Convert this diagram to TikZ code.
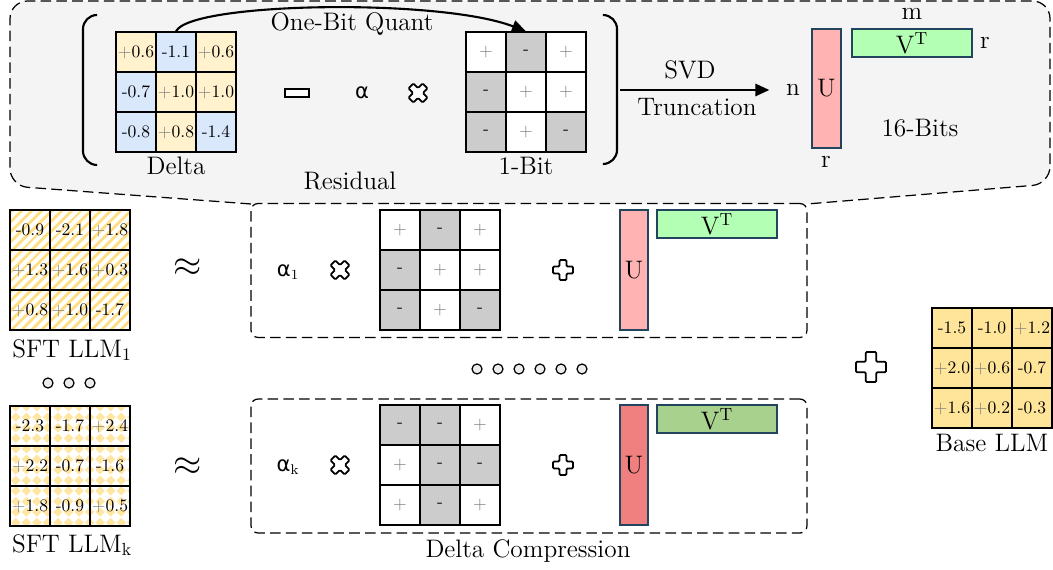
\documentclass[tikz,border=0pt]{standalone}
\usepackage{fontspec}
\usepackage{xcolor}
\usetikzlibrary{arrows.meta,patterns,patterns.meta}
\newfontfamily\grk{DejaVu Sans}

\definecolor{posyellow}{HTML}{FFF2CC}
\definecolor{negblue}{HTML}{DAE8FC}
\definecolor{bitgray}{HTML}{CCCCCC}
\definecolor{upink}{HTML}{FFB3B3}
\definecolor{vgreen}{HTML}{B3FFB3}
\definecolor{ured}{HTML}{F08080}
\definecolor{vsage}{HTML}{A9D18E}
\definecolor{baseyellow}{HTML}{FFE599}
\definecolor{patyellow}{HTML}{FFDF85}
\definecolor{diayellow}{HTML}{FFE6A3}
\definecolor{panelgray}{HTML}{F4F4F4}
\definecolor{edgenavy}{HTML}{23445D}

% rotated checkerboard for the second fine-tuned model
\pgfdeclarepatternformonly{checkdiamonds}{\pgfpoint{-0.1pt}{-0.1pt}}{\pgfpoint{6.1pt}{6.1pt}}{\pgfpoint{6pt}{6pt}}{
  \pgfpathmoveto{\pgfpoint{3pt}{0.3pt}}
  \pgfpathlineto{\pgfpoint{5.7pt}{3pt}}
  \pgfpathlineto{\pgfpoint{3pt}{5.7pt}}
  \pgfpathlineto{\pgfpoint{0.3pt}{3pt}}
  \pgfpathclose
  \pgfusepath{fill}
}

\newcommand{\pl}{\textcolor{gray}{+}}
% 3x3 block of cells: name, left, top, {style/value,...}
\newcommand{\cellgrid}[4]{%
  \foreach \s/\v [count=\i from 0] in {#4} {
    \pgfmathtruncatemacro\col{mod(\i,3)}
    \pgfmathtruncatemacro\row{div(\i,3)}
    \node[cell,\s] (#1-\row-\col) at ({#2+20+40*\col},{#3+20+40*\row}) {\v};
  }}

\begin{document}
\begin{tikzpicture}[x=0.02cm,y=-0.02cm,
  cell/.style={draw,line width=0.7pt,minimum size=0.8cm,inner sep=0pt},
  yel/.style={fill=posyellow},
  blu/.style={fill=negblue},
  gry/.style={fill=bitgray},
  wht/.style={fill=white},
  basec/.style={fill=baseyellow},
  stripe/.style={pattern={Lines[angle=45,distance=4pt,line width=1.7pt]},pattern color=patyellow},
  checks/.style={pattern=checkdiamonds,pattern color=diayellow},
  lbl/.style={font=\Large},
  dashline/.style={dash pattern=on 6pt off 3pt,line width=0.7pt},
  dashbox/.style={draw,dashline,rounded corners=4pt,fill=white,minimum width=11.12cm,minimum height=2.68cm},
  factor/.style={draw=edgenavy,line width=0.7pt,inner sep=0pt,font=\Large},
  ring/.style={circle,draw,fill=gray!15,minimum size=0.2cm,inner sep=0pt,line width=0.7pt},
  arrow/.style={-{Triangle[length=8pt,width=7pt]},line width=1.2pt},
  crossmark/.pic={\draw[fill=white,line width=1pt,rounded corners=0.6pt]
    (-3.5,-10) -- (3.5,-10) -- (3.5,-3.5) -- (10,-3.5) -- (10,3.5) -- (3.5,3.5)
    -- (3.5,10) -- (-3.5,10) -- (-3.5,3.5) -- (-10,3.5) -- (-10,-3.5) -- (-3.5,-3.5) -- cycle;}]
\useasboundingbox (0,0) rectangle (1053,570);

% top panel, narrowing down onto the first row
\coordinate (calloutL) at (251,204);
\coordinate (calloutR) at (807,204);
\path[fill=panelgray,draw,dashline] (calloutL) [rounded corners=10pt] -- (10,186) -- (10,1)
  -- (1050,1) -- (1050,184) [sharp corners] -- (calloutR);

% brackets
\draw[line width=1.2pt,rounded corners=8pt] (97,15) -- (83,15) -- (83,165) -- (97,165);
\draw[line width=1.2pt,rounded corners=8pt] (603,15) -- (617,15) -- (617,164) -- (603,164);

\cellgrid{delta}{116}{32}{yel/\pl0.6, blu/-1.1, yel/\pl0.6,
  blu/-0.7, yel/\pl1.0, yel/\pl1.0,
  blu/-0.8, yel/\pl0.8, blu/-1.4}
\node[lbl] (deltalab) at (176,166) {Delta};

\node[draw,fill=white,line width=1pt,minimum width=0.48cm,minimum height=0.15cm,inner sep=0pt] (minus) at (297,93) {};
\node[font=\large\grk] (alpha) at (362,93) {α};
\pic[rotate=45] at (418,93) {crossmark};

\cellgrid{bitq}{466}{32}{wht/\pl, gry/-, wht/\pl,
  gry/-, wht/\pl, wht/\pl,
  gry/-, wht/\pl, gry/-}
\node[lbl] (bitlab) at (526,166) {1-Bit};

\draw[arrow] (delta-0-1.north) .. controls (190,2) and (440,-2) .. (bitq-0-1.north);
\node[lbl] (quantlab) at (352,24) {One-Bit Quant};
\node[lbl] (residlab) at (350,181) {Residual};

% SVD step
\node[lbl] (nlab) at (793,90) {n};
\coordinate (svdfrom) at (620,90);
\draw[arrow,shorten >=6pt] (svdfrom) -- (nlab.west);
\node[lbl] (svdlab) at (690,70) {SVD};
\node[lbl] (trunclab) at (697,107) {Truncation};

\node[factor,fill=upink,minimum width=0.58cm,minimum height=2.38cm] (utop) at (826.5,88.5) {U};
\node[factor,fill=vgreen,minimum width=2.4cm,minimum height=0.56cm] (vtop) at (912,43) {V$^\mathrm{T}$};
\node[lbl] (rbot) at (826,162) {r};
\node[lbl] (mlab) at (912,14) {m};
\node[lbl] (rside) at (985,43) {r};
\node[lbl] (bitslab) at (920,128) {16-Bits};

% compressed deltas
\node[dashbox] (box1) at (529,270.5) {};
\node[dashbox] (box2) at (529,466) {};

\node[font=\large] (alpha1) at (288,272) {{\grk α}$_1$};
\pic[rotate=45] at (340,270) {crossmark};
\cellgrid{bitA}{380}{210}{wht/\pl, gry/-, wht/\pl,
  gry/-, wht/\pl, wht/\pl,
  gry/-, wht/\pl, gry/-}
\pic at (563,270) {crossmark};
\node[factor,fill=upink,minimum width=0.56cm,minimum height=2.4cm] (uA) at (634,270) {U};
\node[factor,fill=vgreen,minimum width=2.4cm,minimum height=0.56cm] (vA) at (717,224) {V$^\mathrm{T}$};

\foreach \k in {0,...,5}
  \node[ring] (midring\k) at ({477+21*\k},369) {};

\node[font=\large] (alphak) at (288,467) {{\grk α}$_\mathrm{k}$};
\pic[rotate=45] at (340,465) {crossmark};
\cellgrid{bitB}{380}{405}{gry/-, gry/-, wht/\pl,
  wht/\pl, gry/-, gry/-,
  wht/\pl, gry/-, wht/\pl}
\pic at (563,465) {crossmark};
\node[factor,fill=ured,minimum width=0.56cm,minimum height=2.4cm] (uB) at (634,465) {U};
\node[factor,fill=vsage,minimum width=2.4cm,minimum height=0.56cm] (vB) at (717,419) {V$^\mathrm{T}$};
\node[lbl] (complab) at (528,551) {Delta Compression};

% fine-tuned models
\cellgrid{sftA}{10}{210}{stripe/-0.9, stripe/-2.1, stripe/\pl1.8,
  stripe/\pl1.3, stripe/\pl1.6, stripe/\pl0.3,
  stripe/\pl0.8, stripe/\pl1.0, stripe/-1.7}
\node[lbl] (sftAlab) at (72,350) {SFT LLM$_1$};
\node[font=\huge] (approxA) at (188,268) {$\approx$};

\foreach \k in {0,1,2}
  \node[ring] (leftring\k) at ({48+21*\k},383) {};

\cellgrid{sftB}{10}{406}{checks/-2.3, checks/-1.7, checks/\pl2.4,
  checks/\pl2.2, checks/-0.7, checks/-1.6,
  checks/\pl1.8, checks/-0.9, checks/\pl0.5}
\node[lbl] (sftBlab) at (72,545) {SFT LLM$_\mathrm{k}$};
\node[font=\huge] (approxB) at (188,467) {$\approx$};

% base model
\pic[scale=1.5] at (871,367) {crossmark};
\cellgrid{base}{932}{308}{basec/-1.5, basec/-1.0, basec/\pl1.2,
  basec/\pl2.0, basec/\pl0.6, basec/-0.7,
  basec/\pl1.6, basec/\pl0.2, basec/-0.3}
\node[lbl] (baselab) at (992,443) {Base LLM};
\end{tikzpicture}
\end{document}
